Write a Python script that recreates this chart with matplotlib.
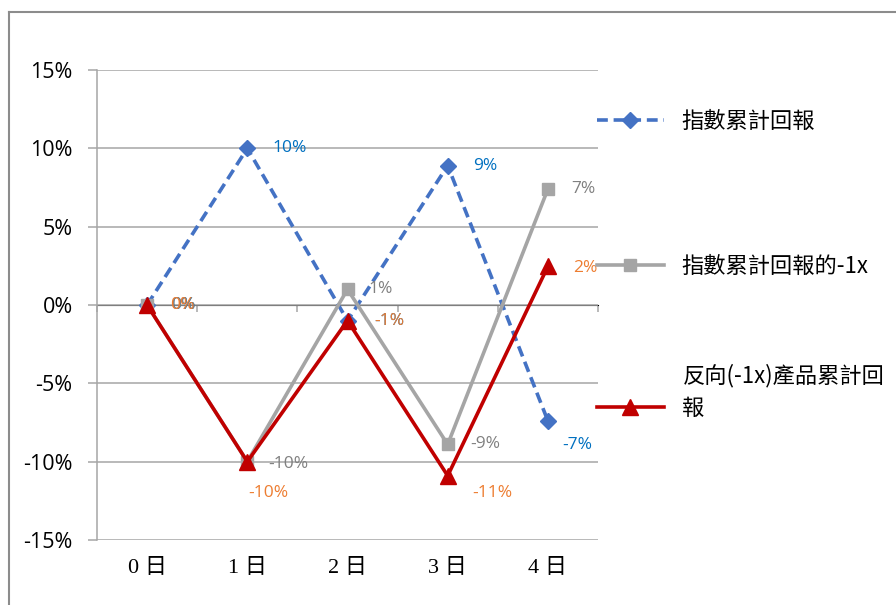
import matplotlib
matplotlib.use("Agg")
import matplotlib.pyplot as plt
from matplotlib.lines import Line2D
from matplotlib.ticker import FuncFormatter, FixedLocator

plt.rcParams['font.family'] = ['Open Sans', 'Noto Sans CJK TC', 'DejaVu Sans']

categories = ["0 日", "1 日", "2 日", "3 日", "4 日"]
index_ret = [0.0, 10.0, -1.0, 8.9, -7.4]
neg1x_ret = [0.0, -10.0, 1.0, -8.9, 7.4]
inverse_ret = [0.0, -10.0, -1.0, -10.9, 2.465]
series_names = ["指數累計回報", "指數累計回報的-1x", "反向(-1x)產品累計回報"]
yticks = [-15, -10, -5, 0, 5, 10, 15]

# label offsets in pixels (dx, dy) for each point
idx_off = [(24, 0), (25, 0), (27, 0), (25, 0), (14, -24)]
neg_off = [(24, 0), (21, -2), (21, 0), (23, 0), (23, 0)]
inv_off = [(23, 0), (1, -31), (27, 0), (25, -17), (25, -2)]

fig = plt.figure(figsize=(8.96, 6.05), dpi=100)
ax = fig.add_axes([97/896, 1-540/605, (598-97)/896, (540-70)/605])

x = list(range(len(categories)))
c_idx, c_neg, c_inv = "#4472C4", "#A5A5A5", "#C00000"
l_idx, l_neg, l_inv = "#0070C0", "#808080", "#ED7D31"

h1, = ax.plot(x, index_ret, color=c_idx, ls=(0, (3, 1.6)), lw=2.6, marker='D',
              ms=8.5, zorder=3, label=series_names[0])
h2, = ax.plot(x, neg1x_ret, color=c_neg, lw=2.6, marker='s', ms=8, zorder=4,
              label=series_names[1])
h3, = ax.plot(x, inverse_ret, color=c_inv, lw=2.6, marker='^', ms=11, zorder=5,
              label=series_names[2])

def labels(vals, offs, color, z):
    for xi, v, (dx, dy) in zip(x, vals, offs):
        ax.annotate(f"{v:.0f}%", (xi, v), xytext=(dx, dy), textcoords='offset pixels',
                    ha='left', va='center', color=color, fontsize=12.5, zorder=z,
                    annotation_clip=False)

labels(index_ret, idx_off, l_idx, 6)
labels(neg1x_ret, neg_off, l_neg, 7)
labels(inverse_ret, inv_off, l_inv, 8)

ax.set_xlim(-0.5, len(categories) - 0.5)
ax.set_ylim(-15, 15)
ax.yaxis.set_major_locator(FixedLocator(yticks))
ax.yaxis.set_major_formatter(FuncFormatter(lambda v, p: f"{v:.0f}%"))
ax.grid(axis='y', color='#A6A6A6', lw=1.1)
ax.set_axisbelow(True)
for s in ['top', 'right', 'bottom']:
    ax.spines[s].set_visible(False)
ax.spines['left'].set_color('#A6A6A6')
ax.spines['left'].set_linewidth(1.1)
ax.tick_params(axis='y', length=6.5, color='#A6A6A6', width=1.1, pad=11,
               labelsize=15.5, labelcolor='#000000')
ax.set_xticks(x)
ax.set_xticklabels(categories, family=['Liberation Serif', 'Noto Sans CJK TC'],
                   fontsize=16)
ax.tick_params(axis='x', length=0, pad=14)

sec = ax.secondary_xaxis(0.5)
sec.xaxis.set_ticks_position('bottom')
sec.set_xticks([i - 0.5 for i in range(len(categories) + 1)])
sec.set_xticklabels([])
sec.tick_params(axis='x', which='both', bottom=True, top=False, length=5,
                color='#A6A6A6', width=1.1, direction='out')
sec.spines['bottom'].set_color('#A6A6A6')
sec.spines['bottom'].set_linewidth(1.1)

leg_prop = {'family': ['Noto Sans CJK TC', 'DejaVu Sans'], 'size': 16}
leg1 = fig.legend(handles=[h1, h2], labels=series_names[:2], loc='upper left',
                  bbox_to_anchor=(577/896, 1-90/605), frameon=False,
                  handlelength=3.0, handletextpad=0.8, labelspacing=5.5,
                  prop=leg_prop)
# third entry: wrapped label, handle next to the last line
name3 = series_names[2]
leg3 = fig.legend(handles=[h3], labels=[name3[-1]], loc='center left',
                  bbox_to_anchor=(577/896, 1-408/605), frameon=False,
                  handlelength=3.0, handletextpad=0.8, prop=leg_prop)
fig.text(683/896, 1-376/605, name3[:-1], ha='left', va='center',
         family=leg_prop['family'], fontsize=16)

# outer frame
fig.add_artist(Line2D([9/896, 9/896], [0, 1-12/605], color='#8C8C8C', lw=1.5,
                      transform=fig.transFigure))
fig.add_artist(Line2D([9/896, 1], [1-12/605, 1-12/605], color='#8C8C8C', lw=1.5,
                      transform=fig.transFigure))

fig.savefig("out.png", dpi=100)
